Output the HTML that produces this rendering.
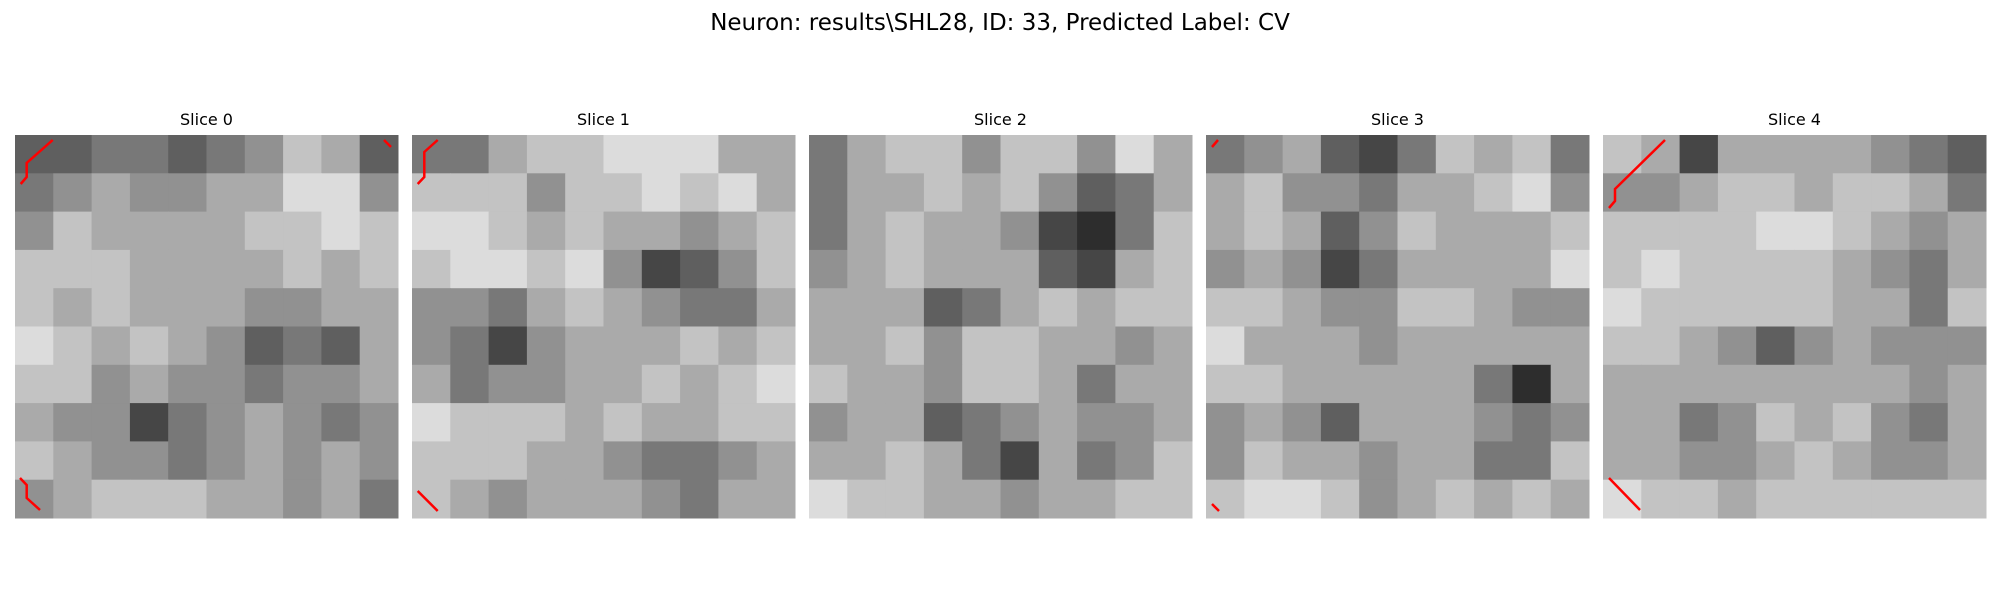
<!DOCTYPE html>
<html><head><meta charset="utf-8"><style>
html,body{margin:0;padding:0;background:#fff;}
svg{display:block;}
text{font-family:"DejaVu Sans","Liberation Sans",sans-serif;fill:#000;}
</style></head><body>
<svg id="chart" width="2000" height="600" viewBox="0 0 2000 600">
<text x="1000" y="30" font-size="23" text-anchor="middle">Neuron: results\SHL28, ID: 33, Predicted Label: CV</text>
<g id="panels"></g>
<g id="overlays" stroke="#ff0000" stroke-width="2.5" fill="none">
<polyline points="52.7,140 26.7,163 26.7,177 20.7,184"/>
<polyline points="384,140 391,147"/>
<polyline points="20,478 26.7,485 26.7,498 40,510"/>
<polyline points="437.7,140 424.3,152 424.3,177 417.7,184"/>
<polyline points="417.7,491 437.7,511"/>
<polyline points="1218,140 1212,147"/>
<polyline points="1212,504 1219,511"/>
<polyline points="1665,140 1615,189 1615,201 1609,208"/>
<polyline points="1609,478 1640,510"/>
</g>
</svg>
<script>
const sliceTitles=["Slice 0","Slice 1","Slice 2","Slice 3","Slice 4"];
const slice0=[[3,3,4,4,3,4,5,7,6,3],[4,5,6,5,5,6,6,8,8,5],[5,7,6,6,6,6,7,7,8,7],[7,7,7,6,6,6,6,7,6,7],[7,6,7,6,6,6,5,5,6,6],[8,7,6,7,6,5,3,4,3,6],[7,7,5,6,5,5,4,5,5,6],[6,5,5,2,4,5,6,5,4,5],[7,6,5,5,4,5,6,5,6,5],[5,6,7,7,7,6,6,5,6,4]];
const slice1=[[4,4,6,7,7,8,8,8,6,6],[7,7,7,5,7,7,8,7,8,6],[8,8,7,6,7,6,6,5,6,7],[7,8,8,7,8,5,2,3,5,7],[5,5,4,6,7,6,5,4,4,6],[5,4,2,5,6,6,6,7,6,7],[6,4,5,5,6,6,7,6,7,8],[8,7,7,7,6,7,6,6,7,7],[7,7,7,6,6,5,4,4,5,6],[7,6,5,6,6,6,5,4,6,6]];
const slice2=[[4,6,7,7,5,7,7,5,8,6],[4,6,6,7,6,7,5,3,4,6],[4,6,7,6,6,5,2,1,4,7],[5,6,7,6,6,6,3,2,6,7],[6,6,6,3,4,6,7,6,7,7],[6,6,7,5,7,7,6,6,5,6],[7,6,6,5,7,7,6,4,6,6],[5,6,6,3,4,5,6,5,5,6],[6,6,7,6,4,2,6,4,5,7],[8,7,7,6,6,5,6,6,7,7]];
const slice3=[[4,5,6,3,2,4,7,6,7,4],[6,7,5,5,4,6,6,7,8,5],[6,7,6,3,5,7,6,6,6,7],[5,6,5,2,4,6,6,6,6,8],[7,7,6,5,5,7,7,6,5,5],[8,6,6,6,5,6,6,6,6,6],[7,7,6,6,6,6,6,4,1,6],[5,6,5,3,6,6,6,5,4,5],[5,7,6,6,5,6,6,4,4,7],[7,8,8,7,5,6,7,6,7,6]];
const slice4=[[7,6,2,6,6,6,6,5,4,3],[5,5,6,7,7,6,7,7,6,4],[7,7,7,7,8,8,7,6,5,6],[7,8,7,7,7,7,6,5,4,6],[8,7,7,7,7,7,6,6,4,7],[7,7,6,5,3,5,6,5,5,5],[6,6,6,6,6,6,6,6,5,6],[6,6,4,5,7,6,7,5,4,6],[6,6,5,5,6,7,6,5,5,6],[8,7,7,6,7,7,7,7,7,7]];
const slices=[slice0,slice1,slice2,slice3,slice4];
const NS="http://www.w3.org/2000/svg";
const g=document.getElementById("panels");
const X0=15,STEP=397,Y0=135,SIZE=383;
function px(p,c,n){return X0+p*STEP+c*SIZE/n;}
function py(r,n){return Y0+r*SIZE/n;}
function gray(v){const k=Math.round(20+v*25);return "rgb("+k+","+k+","+k+")";}
slices.forEach((grid,p)=>{
  const n=grid.length;
  const pg=document.createElementNS(NS,"g");
  
  
  grid.forEach((row,r)=>row.forEach((v,c)=>{
    const rc=document.createElementNS(NS,"rect");
    
    
    rc.setAttribute("x",px(p,c,n));rc.setAttribute("y",py(r,n));
    rc.setAttribute("width",SIZE/n+0.5);rc.setAttribute("height",SIZE/n+0.5);
    rc.setAttribute("fill",gray(v));
    pg.appendChild(rc);
  }));
  g.appendChild(pg);
  const t=document.createElementNS(NS,"text");
  
  
  t.setAttribute("x",X0+p*STEP+SIZE/2);t.setAttribute("y",125);
  t.setAttribute("font-size","16");t.setAttribute("text-anchor","middle");
  t.textContent=sliceTitles[p];
  g.appendChild(t);
});
</script>
</body></html>
